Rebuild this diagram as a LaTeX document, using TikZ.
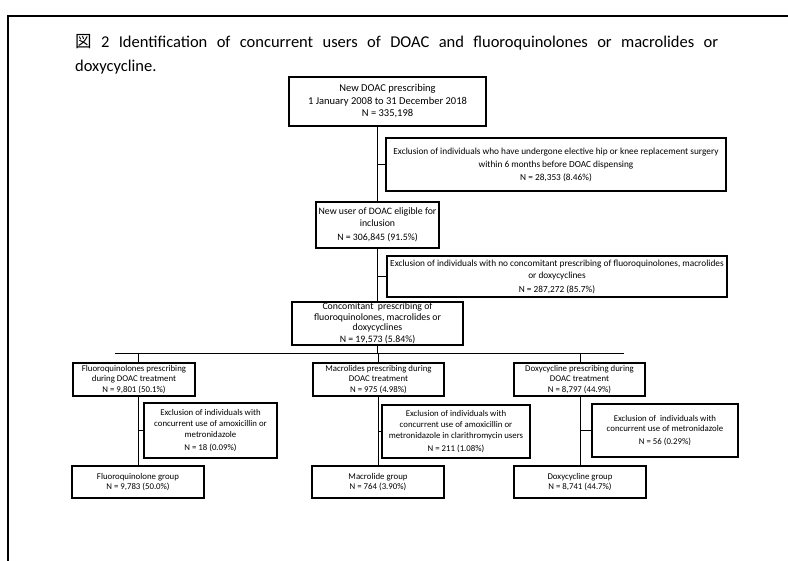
\documentclass[tikz,border=0pt]{standalone}
\usepackage{fontspec}
\setmainfont{Carlito}
\newfontfamily\cjkfont{Noto Sans CJK JP}
\begin{document}
\begin{tikzpicture}[x=1pt,y=-1pt,
  box/.style={draw, line width=1.1pt, inner sep=1pt, align=center,
    font=\fontsize{8.8}{10.8}\selectfont},
  bigbox/.style={box, font=\fontsize{10.5}{12.5}\selectfont},
  midbox/.style={box, font=\fontsize{9.8}{11.5}\selectfont},
  conn/.style={line width=0.9pt},
  frame/.style={line width=1.6pt}]
\path[use as bounding box] (0,0) rectangle (788,561);
\coordinate (fa) at (8,561);
\coordinate (fb) at (8,16);
\coordinate (fc) at (788,16);
\draw[frame] (fa) -- (fb) -- (fc);
% title
\node[anchor=base west, inner sep=0pt, font=\fontsize{16.5}{20}\selectfont] (t1) at (75,48)
  {\makebox[643pt][s]{{\cjkfont 図} 2 Identification of concurrent users of DOAC and fluoroquinolones or macrolides or}};
\node[anchor=base west, inner sep=0pt, font=\fontsize{16.5}{20}\selectfont] (t2) at (75,72) {doxycycline.};
% boxes
\node[bigbox, minimum width=197pt, minimum height=49pt] (top) at (387.5,101.5)
  {New DOAC prescribing\\1 January 2008 to 31 December 2018\\N = 335,198};
\node[box, minimum width=340pt, minimum height=53pt, font=\fontsize{9.3}{13}\selectfont] (ex1) at (556,164.5)
  {Exclusion of individuals who have undergone elective hip or knee replacement surgery\\within 6 months before DOAC dispensing\\N = 28,353 (8.46\%)};
\node[midbox, minimum width=123pt, minimum height=46pt] (b2) at (377.5,225)
  {New user of DOAC eligible for\\inclusion\\[3pt]N = 306,845 (91.5\%)};
\node[box, minimum width=340pt, minimum height=41pt, font=\fontsize{9.3}{12}\selectfont] (ex2) at (557,276.5)
  {Exclusion of individuals with no concomitant prescribing of fluoroquinolones, macrolides\\or doxycyclines\\[2pt]N = 287,272 (85.7\%)};
\node[midbox, minimum width=171pt, minimum height=43pt, font=\fontsize{9.8}{10.3}\selectfont] (b3) at (377.5,323.5)
  {Concomitant\ \ prescribing of\\fluoroquinolones, macrolides or\\doxycyclines\\[2pt]N = 19,573 (5.84\%)};
% second level
\node[box, minimum width=122pt, minimum height=33pt] (fqp) at (134,379.5)
  {Fluoroquinolones prescribing\\during DOAC treatment\\N = 9,801 (50.1\%)};
\node[box, minimum width=131pt, minimum height=33pt] (mp) at (378.5,379.5)
  {Macrolides prescribing during\\DOAC treatment\\N = 975 (4.98\%)};
\node[box, minimum width=131pt, minimum height=33pt] (dp) at (579.5,379.5)
  {Doxycycline prescribing during\\DOAC treatment\\N = 8,797 (44.9\%)};
\node[box, minimum width=133pt, minimum height=55pt] (fqe) at (210.5,430.5)
  {Exclusion of individuals with\\concurrent use of amoxicillin or\\metronidazole\\[2pt]N = 18 (0.09\%)};
\node[box, minimum width=148pt, minimum height=53pt] (me) at (456,431.5)
  {Exclusion of individuals with\\concurrent use of amoxicillin or\\metronidazole in clarithromycin users\\[2pt]N = 211 (1.08\%)};
\node[box, minimum width=146pt, minimum height=53pt] (de) at (665,430.5)
  {Exclusion of\ \ individuals with\\concurrent use of metronidazole\\[2pt]N = 56 (0.29\%)};
\node[box, minimum width=132pt, minimum height=32pt] (fqg) at (138,482)
  {Fluoroquinolone group\\N = 9,783 (50.0\%)};
\node[box, minimum width=132pt, minimum height=32pt] (mg) at (378,482)
  {Macrolide group\\N = 764 (3.90\%)};
\node[box, minimum width=132pt, minimum height=32pt] (dg) at (580,482)
  {Doxycycline group\\N = 8,741 (44.7\%)};
% connectors
\draw[conn] (b2.north |- top.south) -- (b2.north);
\draw[conn] (ex1.west) -- (ex1.west -| b2.north);
\draw[conn] (b2.south) -- (b3.north);
\draw[conn] (ex2.west) -- (ex2.west -| b2.south);
\coordinate (hl) at (115,353);
\coordinate (hr) at (624,353);
\draw[conn] (hl) -- (hr);
\draw[conn] (b3.south) -- (b3.south |- hl);
\draw[conn] (fqg.north |- hl) -- (fqg.north |- fqp.north);
\draw[conn] (mg.north |- hl) -- (mg.north |- mp.north);
\draw[conn] (dg.north |- hl) -- (dg.north |- dp.north);
\draw[conn] (fqg.north |- fqp.south) -- (fqg.north);
\draw[conn] (mg.north |- mp.south) -- (mg.north);
\draw[conn] (dg.north |- dp.south) -- (dg.north);
\draw[conn] (fqe.west) -- (fqe.west -| fqg.north);
\draw[conn] (me.west) -- (me.west -| mg.north);
\draw[conn] (de.west) -- (de.west -| dg.north);
\end{tikzpicture}
\end{document}
